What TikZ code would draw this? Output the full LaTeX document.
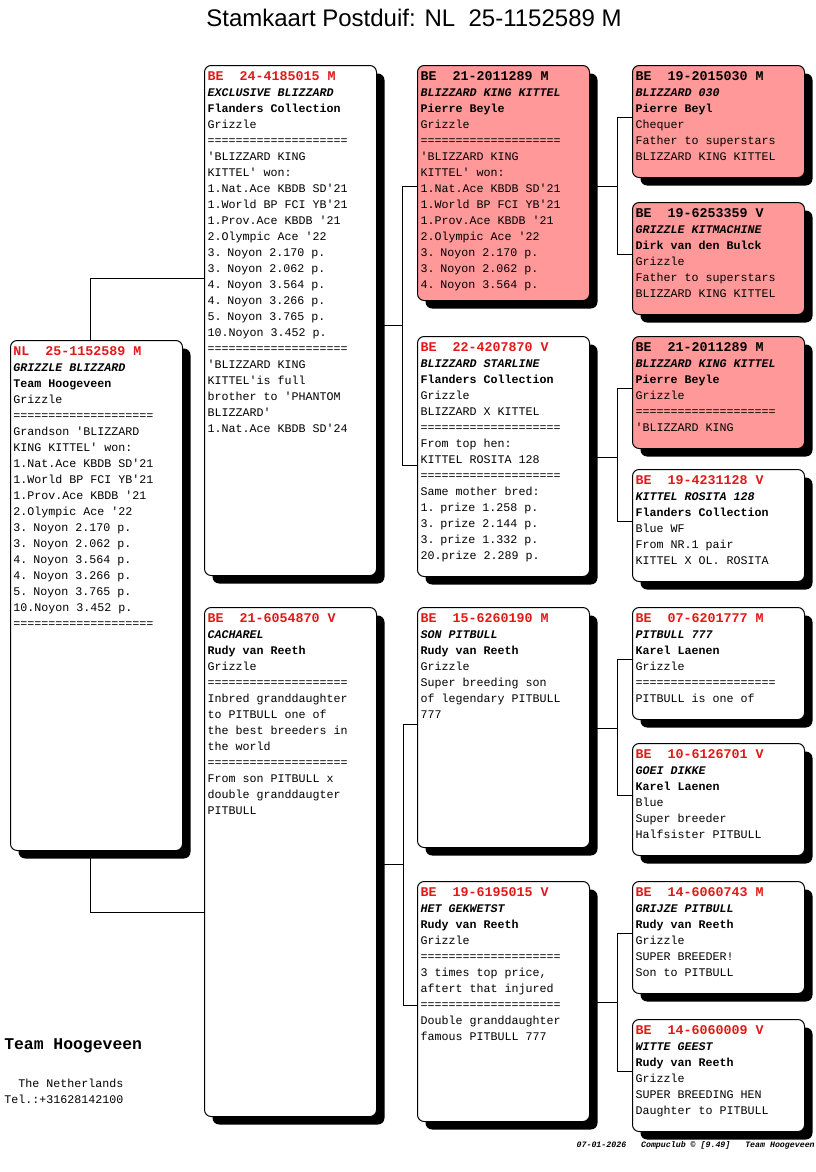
\documentclass[tikz,border=0pt]{standalone}
\usepackage{fontspec}
\setmainfont{Liberation Sans}
\setmonofont{Liberation Mono}
\usetikzlibrary{calc,shadows,backgrounds}

\definecolor{ringred}{RGB}{225,25,25}
\definecolor{pinkfill}{RGB}{255,153,153}

\newcommand{\cardfont}[2]{\ttfamily\fontsize{#1}{#2}\selectfont\spaceskip=0.6em\relax}
\newcommand{\ring}[1]{{\cardfont{10}{12}\bfseries\color{ringred}#1}}
\newcommand{\ringb}[1]{{\cardfont{10}{12}\bfseries#1}}

\begin{document}
\begin{tikzpicture}[x=0.75pt,y=-0.75pt,
	pbox/.style={draw, line width=0.75pt, fill=white, rounded corners=5pt, anchor=north west,
		inner xsep=2.25pt, inner ysep=2.85pt, text width=124.5pt,
		text height=8.4pt, text depth=#1, font={\cardfont{8.75}{12}},
		execute at begin node={\spaceskip=0.6em\relax},
		drop shadow={shadow xshift=6pt, shadow yshift=-6pt, fill=black, opacity=1}},
	pink/.style={fill=pinkfill},
	link/.style={draw, line width=0.75pt}]
	\useasboundingbox (0,0) rectangle (816,1172);

	\node[anchor=base, inner sep=0pt, font=\fontsize{18}{20}\selectfont] (title) at (414,26) {Stamkaart Postduif: NL~~25-1152589 M};

	% generation 1
	\node[pbox=368.4pt] (subj) at (10,340) {\ring{NL~~25-1152589 M}\\ \textbf{\textit{GRIZZLE BLIZZARD}}\\ \textbf{Team Hoogeveen}\\ Grizzle\\ ====================\\ Grandson 'BLIZZARD\\ KING KITTEL' won:\\ 1.Nat.Ace KBDB SD'21\\ 1.World BP FCI YB'21\\ 1.Prov.Ace KBDB '21\\ 2.Olympic Ace '22\\ 3. Noyon 2.170 p.\\ 3. Noyon 2.062 p.\\ 4. Noyon 3.564 p.\\ 4. Noyon 3.266 p.\\ 5. Noyon 3.765 p.\\ 10.Noyon 3.452 p.\\ ====================};

	% generation 2
	\node[pbox=368.4pt] (sire) at (204,65) {\ring{BE~~24-4185015 M}\\ \textbf{\textit{EXCLUSIVE BLIZZARD}}\\ \textbf{Flanders Collection}\\ Grizzle\\ ====================\\ 'BLIZZARD KING\\ KITTEL' won:\\ 1.Nat.Ace KBDB SD'21\\ 1.World BP FCI YB'21\\ 1.Prov.Ace KBDB '21\\ 2.Olympic Ace '22\\ 3. Noyon 2.170 p.\\ 3. Noyon 2.062 p.\\ 4. Noyon 3.564 p.\\ 4. Noyon 3.266 p.\\ 5. Noyon 3.765 p.\\ 10.Noyon 3.452 p.\\ ====================\\ 'BLIZZARD KING\\ KITTEL'is full\\ brother to 'PHANTOM\\ BLIZZARD'\\ 1.Nat.Ace KBDB SD'24};
	\node[pbox=367.65pt] (dam) at (204,607) {\ring{BE~~21-6054870 V}\\ \textbf{\textit{CACHAREL}}\\ \textbf{Rudy van Reeth}\\ Grizzle\\ ====================\\ Inbred granddaughter\\ to PITBULL one of\\ the best breeders in\\ the world\\ ====================\\ From son PITBULL x\\ double granddaugter\\ PITBULL};

	% generation 3
	\node[pbox=162.15pt, pink] (ss) at (417,65) {\ringb{BE~~21-2011289 M}\\ \textbf{\textit{BLIZZARD KING KITTEL}}\\ \textbf{Pierre Beyle}\\ Grizzle\\ ====================\\ 'BLIZZARD KING\\ KITTEL' won:\\ 1.Nat.Ace KBDB SD'21\\ 1.World BP FCI YB'21\\ 1.Prov.Ace KBDB '21\\ 2.Olympic Ace '22\\ 3. Noyon 2.170 p.\\ 3. Noyon 2.062 p.\\ 4. Noyon 3.564 p.};
	\node[pbox=165.9pt] (sd) at (417,336) {\ring{BE~~22-4207870 V}\\ \textbf{\textit{BLIZZARD STARLINE}}\\ \textbf{Flanders Collection}\\ Grizzle\\ BLIZZARD X KITTEL\\ ====================\\ From top hen:\\ KITTEL ROSITA 128\\ ====================\\ Same mother bred:\\ 1. prize 1.258 p.\\ 3. prize 2.144 p.\\ 3. prize 1.332 p.\\ 20.prize 2.289 p.};
	\node[pbox=165.9pt] (ds) at (417,607) {\ring{BE~~15-6260190 M}\\ \textbf{\textit{SON PITBULL}}\\ \textbf{Rudy van Reeth}\\ Grizzle\\ Super breeding son\\ of legendary PITBULL\\ 777};
	\node[pbox=165.9pt] (dd) at (417,881) {\ring{BE~~19-6195015 V}\\ \textbf{\textit{HET GEKWETST}}\\ \textbf{Rudy van Reeth}\\ Grizzle\\ ====================\\ 3 times top price,\\ aftert that injured\\ ====================\\ Double granddaughter\\ famous PITBULL 777};

	% generation 4
	\node[pbox=69.9pt, pink] (sss) at (632,65) {\ringb{BE~~19-2015030 M}\\ \textbf{\textit{BLIZZARD 030}}\\ \textbf{Pierre Beyl}\\ Chequer\\ Father to superstars\\ BLIZZARD KING KITTEL};
	\node[pbox=69.9pt, pink] (ssd) at (632,202) {\ringb{BE~~19-6253359 V}\\ \textbf{\textit{GRIZZLE KITMACHINE}}\\ \textbf{Dirk van den Bulck}\\ Grizzle\\ Father to superstars\\ BLIZZARD KING KITTEL};
	\node[pbox=69.9pt, pink] (sds) at (632,336) {\ringb{BE~~21-2011289 M}\\ \textbf{\textit{BLIZZARD KING KITTEL}}\\ \textbf{Pierre Beyle}\\ Grizzle\\ ====================\\ 'BLIZZARD KING};
	\node[pbox=69.9pt] (sdd) at (632,469) {\ring{BE~~19-4231128 V}\\ \textbf{\textit{KITTEL ROSITA 128}}\\ \textbf{Flanders Collection}\\ Blue WF\\ From NR.1 pair\\ KITTEL X OL. ROSITA};
	\node[pbox=69.9pt] (dss) at (632,607) {\ring{BE~~07-6201777 M}\\ \textbf{\textit{PITBULL 777}}\\ \textbf{Karel Laenen}\\ Grizzle\\ ====================\\ PITBULL is one of};
	\node[pbox=69.9pt] (dsd) at (632,743) {\ring{BE~~10-6126701 V}\\ \textbf{\textit{GOEI DIKKE}}\\ \textbf{Karel Laenen}\\ Blue\\ Super breeder\\ Halfsister PITBULL};
	\node[pbox=69.9pt] (dds) at (632,881) {\ring{BE~~14-6060743 M}\\ \textbf{\textit{GRIJZE PITBULL}}\\ \textbf{Rudy van Reeth}\\ Grizzle\\ SUPER BREEDER!\\ Son to PITBULL};
	\node[pbox=69.9pt] (ddd) at (632,1019) {\ring{BE~~14-6060009 V}\\ \textbf{\textit{WITTE GEEST}}\\ \textbf{Rudy van Reeth}\\ Grizzle\\ SUPER BREEDING HEN\\ Daughter to PITBULL};

	% lines
	\begin{scope}[on background layer]
		\draw[link] ($(subj.north west)+(80,255)$) |- ($(sire.north west)+(0,213)$);
		\draw[link] ($(subj.north west)+(80,255)$) |- ($(dam.north west)+(0,305)$);
		\draw[link] ($(sire.north east)+(0,260)$) -- ++(25,0) |- ($(ss.north west)+(0,121)$);
		\draw[link] ($(sire.north east)+(0,260)$) -- ++(25,0) |- ($(sd.north west)+(0,129)$);
		\draw[link] ($(dam.north east)+(0,257)$) -- ++(26,0) |- ($(ds.north west)+(0,117)$);
		\draw[link] ($(dam.north east)+(0,257)$) -- ++(26,0) |- ($(dd.north west)+(0,124)$);
		\draw[link] ($(ss.north east)+(0,121)$) -- ++(27,0) |- ($(sss.north west)+(0,52)$);
		\draw[link] ($(ss.north east)+(0,121)$) -- ++(27,0) |- ($(ssd.north west)+(0,52)$);
		\draw[link] ($(sd.north east)+(0,121)$) -- ++(27,0) |- ($(sds.north west)+(0,52)$);
		\draw[link] ($(sd.north east)+(0,121)$) -- ++(27,0) |- ($(sdd.north west)+(0,52)$);
		\draw[link] ($(ds.north east)+(0,121)$) -- ++(27,0) |- ($(dss.north west)+(0,52)$);
		\draw[link] ($(ds.north east)+(0,121)$) -- ++(27,0) |- ($(dsd.north west)+(0,52)$);
		\draw[link] ($(dd.north east)+(0,121)$) -- ++(27,0) |- ($(dds.north west)+(0,52)$);
		\draw[link] ($(dd.north east)+(0,121)$) -- ++(27,0) |- ($(ddd.north west)+(0,52)$);
	\end{scope}

	\node[anchor=base west, inner sep=0pt, font={\cardfont{12.3}{14}\bfseries}] (team) at (4,1049) {Team Hoogeveen};
	\node[anchor=base west, inner sep=0pt, text width=120pt, font={\cardfont{8.75}{12}}, execute at begin node={\spaceskip=0.6em\relax}] (addr) at (4,1087) {~~The Netherlands\\ Tel.:+31628142100};
	\node[anchor=base east, inner sep=0pt, font={\cardfont{6.2}{8}\bfseries\itshape}] (footer) at (815,1147) {07-01-2026~~~Compuclub © [9.49]~~~Team Hoogeveen};
\end{tikzpicture}
\end{document}
